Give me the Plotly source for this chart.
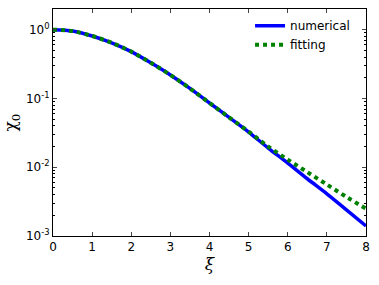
import plotly.graph_objects as go

xi = [0, 0.5, 1, 1.5, 2, 2.5, 3, 3.5, 4, 4.5, 5, 5.5, 6, 6.5, 7, 7.5, 8]
numerical = [1.0, 0.955, 0.81, 0.645, 0.48, 0.33, 0.22, 0.14, 0.086, 0.053,
             0.0325, 0.019, 0.0115, 0.0068, 0.0041, 0.0024, 0.0014]
fitting = [1.0, 0.955, 0.81, 0.645, 0.48, 0.33, 0.22, 0.14, 0.086, 0.053,
           0.033, 0.020, 0.0129, 0.0085, 0.0056, 0.0037, 0.0025]

y_tickvals = [1, 0.1, 0.01, 0.001]
y_ticktext = ["10<sup>0</sup>", "10<sup>-1</sup>", "10<sup>-2</sup>", "10<sup>-3</sup>"]
y_minorvals = [m * d for d in [0.001, 0.01, 0.1, 1] for m in range(2, 10)]
x_tickvals = [0, 1, 2, 3, 4, 5, 6, 7, 8]

fig = go.Figure()
fig.add_trace(go.Scatter(x=xi, y=numerical, mode="lines", name="numerical",
                         line=dict(color="#0000ff", width=3.5, shape="spline", smoothing=0.8)))
fig.add_trace(go.Scatter(x=xi, y=fitting, mode="lines", name="fitting",
                         line=dict(color="#008000", width=4, dash="dot", shape="spline", smoothing=0.8)))

fig.update_layout(
    width=379, height=285,
    margin=dict(l=53, r=13, t=9, b=49),
    paper_bgcolor="white", plot_bgcolor="white",
    font=dict(family="DejaVu Sans", size=12, color="black"),
    legend=dict(x=0.965, y=0.99, xanchor="right", yanchor="top",
                bgcolor="rgba(0,0,0,0)", font=dict(size=12),
                tracegroupgap=0),
    xaxis=dict(range=[0, 8], tickvals=x_tickvals, ticks="inside", ticklen=4,
               showline=True, linecolor="black", linewidth=1, mirror="allticks",
               showgrid=False, zeroline=False,
               title=dict(text="<i>ξ</i>", font=dict(family="DejaVu Serif", size=17), standoff=2)),
    yaxis=dict(type="log", range=[-3, 0.301], tickvals=y_tickvals, ticktext=y_ticktext,
               ticks="inside", ticklen=4,
               showline=True, linecolor="black", linewidth=1, mirror="allticks",
               showgrid=False, zeroline=False,
               minor=dict(tickvals=y_minorvals, ticks="inside", ticklen=2,
                          tickcolor="black", showgrid=False),
               title=dict(text="χ<sub>0</sub>", font=dict(family="DejaVu Serif", size=17), standoff=6)),
)
fig.write_html("out.html", config={"displayModeBar": False},
               post_script="document.body.style.margin='0';")
